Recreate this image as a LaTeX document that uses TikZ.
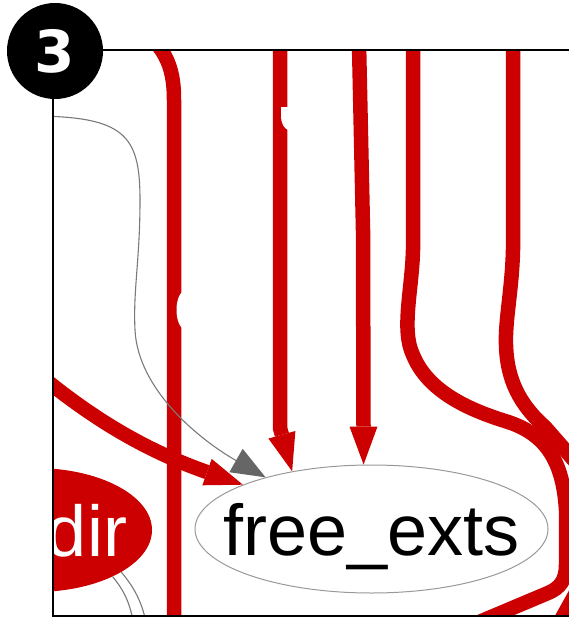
\documentclass[tikz,border=0pt]{standalone}
\usepackage{fontspec}
\setmainfont{Liberation Sans}
\newfontfamily\badgefont{DejaVu Sans}
\usetikzlibrary{arrows.meta, shapes.geometric}
\definecolor{graphred}{HTML}{CC0000}
\definecolor{edgegray}{HTML}{7A7A7A}
\definecolor{headgray}{HTML}{666666}
\definecolor{rimgray}{HTML}{999999}
\tikzset{
  bigtext/.style={font=\fontsize{72}{72}\selectfont, text height=62pt, text depth=10pt},
  plainnode/.style={ellipse, draw=rimgray, line width=1pt, fill=white, inner sep=0pt, bigtext,
              minimum width=353pt, minimum height=128pt},
  rednode/.style={ellipse, fill=graphred, text=white, inner sep=0pt, bigtext,
              minimum width=234pt, minimum height=124pt},
  badge/.style={circle, fill=black, text=white, inner sep=0pt, minimum size=96pt,
              font=\badgefont\fontsize{58}{58}\selectfont\bfseries},
  redge/.style={draw=graphred, line width=14.5pt},
  redarrow/.style={redge, -{Triangle[length=38pt, width=28pt, line width=0pt]}},
  thinedge/.style={draw=edgegray, line width=1.1pt},
  grayarrow/.style={thinedge, -{Triangle[length=34pt, width=27pt, fill=headgray, line width=0pt]}},
  frame/.style={draw=black, line width=2.5pt},
  gap/.style={fill=white},
}

\begin{document}
\begin{tikzpicture}[x=1pt, y=-1pt]
  \useasboundingbox (0,0) rectangle (568,618);
  \begin{scope}
    \clip (53,50) rectangle (620,616);
    \node[plainnode] (free) at (371.5,529) {\makebox[0pt]{free\_exts}};
    \node[rednode] (dir) at (35,530) {\makebox[0pt]{\hspace*{104pt}dir}};
    % loose ends, outside the frame
    \coordinate (inA) at (130,20);
    \coordinate (outA) at (174,640);
    \coordinate (inB) at (20,358);
    \coordinate (inC) at (30,116);
    \coordinate (topD) at (280,20);
    \coordinate (topE) at (358.5,20);
    \coordinate (topF) at (413,20);
    \coordinate (outF) at (465,628);
    \coordinate (topG) at (513,20);
    \coordinate (outG) at (600,490);
    \coordinate (inH) at (582,582);
    \coordinate (outH) at (552,636);
    \coordinate (outJ) at (134,628);
    \coordinate (outK) at (147,628);
    \draw[redge] (inA) .. controls (165,45) and (174,65) .. (174,100) -- (outA);
    \draw[redarrow] (inB) .. controls (90,420) and (150,452) .. (free.161.4);
    \draw[redarrow] (topD) -- (280,428) -- (free.144.4);
    \draw[redarrow] (topE) -- (363,230) -- (free.97.6);
    \draw[redge] (topF) -- (413,250) .. controls (412,290) and (401,330) .. (413,355)
      .. controls (428,392) and (470,410) .. (505,421) .. controls (545,433) and (563,460) .. (566,510)
      -- (566,565) .. controls (566,580) and (560,588) .. (548,593) -- (outF);
    \draw[redge] (topG) -- (513,250) .. controls (512,290) and (505,320) .. (506,345)
      .. controls (507,380) and (520,405) .. (545,427) -- (outG);
    \draw[redge] (inH) -- (outH);
    \fill[gap] (185,310) ellipse [x radius=8.5pt, y radius=19pt];
    \fill[gap] (281,107) -- (281,115) .. controls (281,124) and (284,128) .. (288,130)
      -- (292,130) -- (292,107) -- cycle;
    \draw[grayarrow] (inC) .. controls (125,116) and (140,135) .. (140,200)
      .. controls (140,260) and (133,290) .. (135,330)
      .. controls (138,390) and (200,440) .. (free.154.4);
    \draw[thinedge] (dir.-31) .. controls (122,588) and (131,602) .. (outJ);
    \draw[thinedge] (dir.-26) .. controls (133,586) and (143,602) .. (outK);
  \end{scope}
  \draw[frame] (620,50) -- (53,50) -- (53,616) -- (620,616);
  \node[badge] (num) at (55,51) {3};
\end{tikzpicture}
\end{document}
